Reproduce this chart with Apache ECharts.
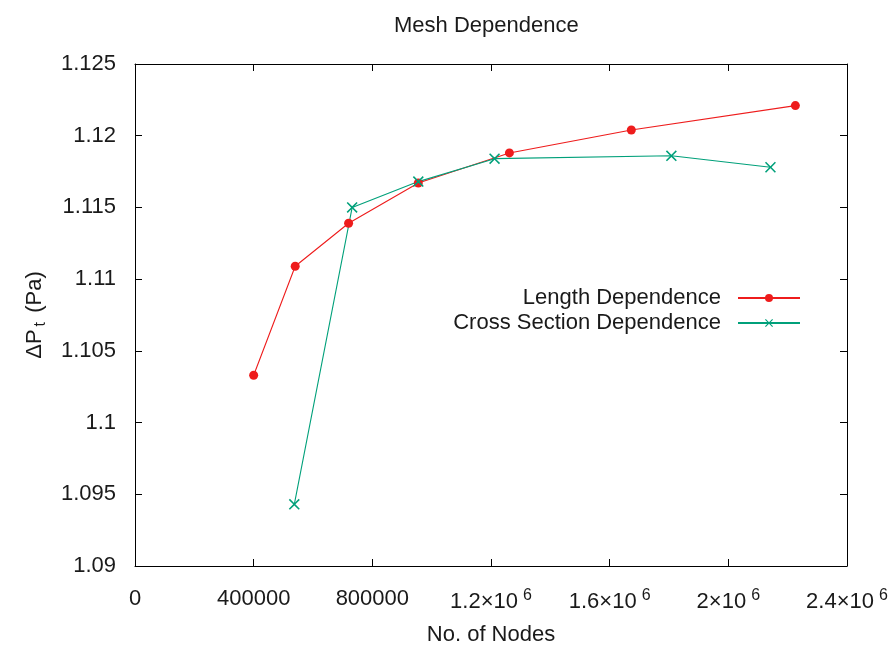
<!DOCTYPE html>
<html>
<head>
<meta charset="utf-8">
<script src="https://cdn.jsdelivr.net/npm/echarts@6/dist/echarts.min.js"></script>
<style>html,body{margin:0;padding:0;background:#fff}#c{width:890px;height:648px}</style>
</head>
<body>
<div id="c"></div>
<script>
var lengthNodes = [400000, 540000, 720000, 955000, 1262000, 1673000, 2226000];
var lengthDP = [1.1033, 1.1109, 1.1139, 1.1167, 1.1188, 1.1204, 1.1221];
var crossNodes = [537000, 732000, 955000, 1212000, 1808000, 2142000];
var crossDP = [1.0943, 1.1150, 1.1168, 1.1184, 1.1186, 1.1178];
var xTicks = [0, 400000, 800000, 1200000, 1600000, 2000000, 2400000];
var yTicks = [1.09, 1.095, 1.1, 1.105, 1.11, 1.115, 1.12, 1.125];
var seriesNames = ['Length Dependence', 'Cross Section Dependence'];

var FONT = '"Liberation Sans", Arial, sans-serif';
var TXT = '#1a1a1a';
var RED = '#ee1c1c', GREEN = '#00a07a';
function zip(a, b) { return a.map(function (v, i) { return [v, b[i]]; }); }
function xLabel(v) {
  if (v === 0) return '0';
  if (v < 1e6) return String(v);
  var m = v / 1e6;
  return (m === Math.round(m) ? String(m) : m.toFixed(1)) + '×10{s|6}';
}
function yLabel(v) { return String(parseFloat(v.toFixed(3))); }
var xcross = 'path://M0,1 L1,0 L5,4 L9,0 L10,1 L6,5 L10,9 L9,10 L5,6 L1,10 L0,9 L4,5 Z';
var axisCommon = {
  axisLine: { show: true, onZero: false, lineStyle: { color: '#000', width: 1 } },
  axisTick: { show: true, inside: true, length: 7, lineStyle: { color: '#000' } },
  splitLine: { show: false }
};
var chart = echarts.init(document.getElementById('c'));
chart.setOption({
  animation: false,
  backgroundColor: '#fff',
  title: {
    text: 'Mesh Dependence', left: 389, top: 10,
    textStyle: { fontFamily: FONT, fontSize: 22, fontWeight: 'normal', color: TXT }
  },
  grid: { left: 135, right: 43, top: 64, bottom: 82, containLabel: false, outerBoundsMode: 'none' },
  legend: {
    right: 84, top: 282, orient: 'vertical', align: 'right',
    itemWidth: 62, itemHeight: 10, itemGap: 3,
    textStyle: { fontFamily: FONT, fontSize: 22, color: TXT, padding: [0, 12, 0, 0] },
    data: seriesNames
  },
  xAxis: [
    Object.assign({
      type: 'value', min: 0, max: 2400000, interval: 400000,
      name: 'No. of Nodes', nameLocation: 'middle', nameGap: 58,
      nameTextStyle: { fontFamily: FONT, fontSize: 22, color: TXT },
      axisLabel: {
        margin: 22, fontFamily: FONT, fontSize: 22, color: TXT,
        formatter: xLabel,
        rich: { s: { fontSize: 16, fontFamily: FONT, color: TXT, verticalAlign: 'top', padding: [0, 0, 12, 5] } }
      }
    }, axisCommon),
    Object.assign({
      type: 'value', position: 'top', min: 0, max: 2400000, interval: 400000,
      axisLabel: { show: false }
    }, axisCommon)
  ],
  yAxis: [
    Object.assign({
      type: 'value', min: 1.09, max: 1.125, interval: 0.005,
      name: '{n|ΔP}{sub|t}{n| (Pa)}', nameLocation: 'middle', nameGap: 86, nameRotate: 90,
      nameTextStyle: {
        fontFamily: FONT, fontSize: 22, color: TXT,
        rich: {
          n: { fontFamily: FONT, fontSize: 22, color: TXT },
          sub: { fontFamily: FONT, fontSize: 16, color: TXT, verticalAlign: 'bottom', padding: [12, 3, 0, 3] }
        }
      },
      axisLabel: { margin: 19, fontFamily: FONT, fontSize: 22, color: TXT, formatter: yLabel, padding: [3, 0, 0, 0] }
    }, axisCommon),
    Object.assign({
      type: 'value', position: 'right', min: 1.09, max: 1.125, interval: 0.005,
      axisLabel: { show: false }
    }, axisCommon)
  ],
  series: [
    {
      name: seriesNames[0], type: 'line', data: zip(lengthNodes, lengthDP),
      symbol: 'circle', symbolSize: 9,
      lineStyle: { color: RED, width: 1.1 }, itemStyle: { color: RED },
      emphasis: { disabled: true }
    },
    {
      name: seriesNames[1], type: 'line', data: zip(crossNodes, crossDP),
      symbol: xcross, symbolSize: 11,
      lineStyle: { color: GREEN, width: 1.1 }, itemStyle: { color: GREEN },
      emphasis: { disabled: true }
    }
  ]
});
</script>
</body>
</html>
